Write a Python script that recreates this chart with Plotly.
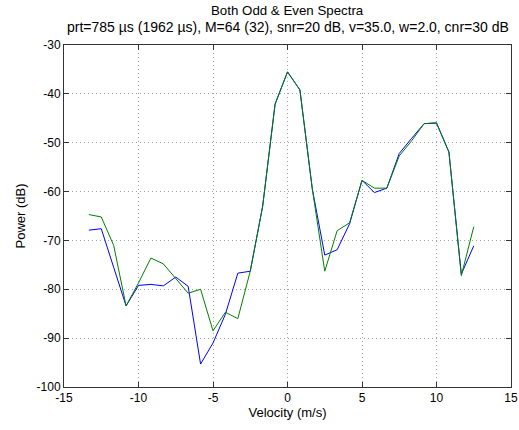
import plotly.graph_objects as go

step = 5.0 / 6.0
velocity = [(k - 16) * step for k in range(32)]

power_blue = [-67.9, -67.6, -75.5, -83.4, -79.2, -79.0, -79.3, -77.5, -79.4, -95.3,
              -91.0, -85.1, -76.7, -76.3, -63.0, -42.1, -35.5, -39.2, -59.5, -73.0,
              -71.9, -66.6, -57.7, -60.2, -59.3, -52.2, -49.1, -46.1, -46.0, -51.9,
              -76.9, -71.1]
power_green = [-64.7, -65.2, -71.0, -83.4, -78.7, -73.6, -74.8, -77.9, -80.8, -80.0,
               -88.5, -84.7, -86.0, -76.3, -63.0, -42.1, -35.5, -39.2, -59.5, -76.3,
               -68.0, -66.4, -57.7, -59.3, -59.3, -52.7, -49.6, -46.1, -45.9, -51.9,
               -77.2, -67.2]

x_ticks = [-15, -10, -5, 0, 5, 10, 15]
y_ticks = [-100, -90, -80, -70, -60, -50, -40, -30]

title1 = "Both Odd &amp; Even Spectra"
title2 = "prt=785 µs (1962 µs), M=64 (32), snr=20 dB, v=35.0, w=2.0, cnr=30 dB"

fig = go.Figure()
fig.add_trace(go.Scatter(x=velocity, y=power_blue, mode="lines",
                         line=dict(color="#0000ff", width=1), showlegend=False))
fig.add_trace(go.Scatter(x=velocity, y=power_green, mode="lines",
                         line=dict(color="#008000", width=1), showlegend=False))

fam = "Liberation Sans, Arial, sans-serif"
font = dict(family=fam, size=12, color="black")
label_font = dict(family=fam, size=13, color="black")
axis_common = dict(showline=True, linecolor="#333333", linewidth=1, mirror="ticks",
                   ticks="inside", ticklen=5, tickcolor="#333333",
                   showgrid=True, gridcolor="#a0a0a0", griddash="1px,3px", gridwidth=1,
                   zeroline=False, tickfont=font, automargin=False)

fig.update_layout(
    width=519, height=430, autosize=False,
    margin=dict(l=64, r=8, t=45, b=43, pad=0, autoexpand=False),
    paper_bgcolor="white", plot_bgcolor="white",
    font=font,
    xaxis=dict(range=[-15, 15], tickvals=x_ticks, ticktext=[str(v) for v in x_ticks],
               title=dict(text="Velocity (m/s)", font=label_font, standoff=3), **axis_common),
    yaxis=dict(range=[-100, -30], tickvals=y_ticks, ticktext=[str(v) for v in y_ticks],
               title=dict(text="Power (dB)", font=label_font, standoff=8), **axis_common),
    annotations=[
        dict(text=title1, xref="paper", yref="paper", x=0.5, y=1 + (45 - 10.5) / 342,
             xanchor="center", yanchor="middle", showarrow=False,
             font=dict(family=fam, size=13.3, color="black")),
        dict(text=title2, xref="paper", yref="paper", x=0.5, y=1 + (45 - 26.5) / 342,
             xanchor="center", yanchor="middle", showarrow=False,
             font=dict(family=fam, size=14, color="black")),
    ],
)

fig.write_html("out.html")
